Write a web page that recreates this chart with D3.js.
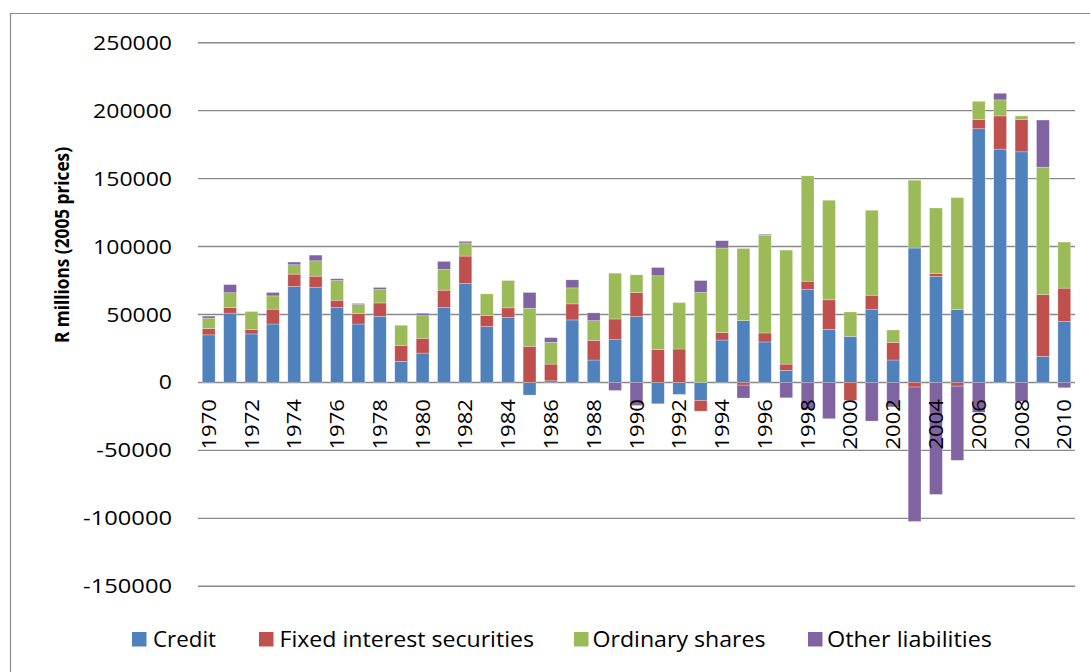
<!DOCTYPE html>
<html>
<head>
<meta charset="utf-8">
<script src="https://cdn.jsdelivr.net/npm/d3@7"></script>
<style>
html,body{margin:0;padding:0;background:#fff;}
svg{display:block;}
text{font-family:"Open Sans","DejaVu Sans",sans-serif;fill:#000;}
</style>
</head>
<body>
<svg id="chart" width="1090" height="672"></svg>
<script>
const years = d3.range(1970, 2011).map(String);
const seriesNames = ["Credit", "Fixed interest securities", "Ordinary shares", "Other liabilities"];
const seriesColors = ["#4F81BD", "#C0504D", "#9BBB59", "#8064A2"];
const yTicks = [-150000, -100000, -50000, 0, 50000, 100000, 150000, 200000, 250000];

const credit = [35000, 51000, 35700, 43000, 70600, 70100, 55100, 43000, 48700, 15500,
  21600, 55100, 72800, 41100, 48000, -9300, 1200, 46000, 16500, 31500,
  48500, -15700, -8800, -13200, 31200, 45500, 29800, 8900, 68600, 39100,
  33900, 53600, 16500, 98900, 78000, 53600, 186700, 171700, 169700, 19200, 44800];
const fixedInterest = [4700, 4000, 3400, 10900, 9100, 8100, 5400, 7700, 9800, 11800,
  10900, 12800, 20200, 8300, 6900, 26600, 12300, 11800, 14500, 15200,
  17700, 24100, 24600, -7900, 5500, -2000, 6600, 4600, 5900, 21700,
  -13200, 10600, 13000, -3400, 2200, -2700, 6700, 24400, 23700, 45500, 24600];
const ordinaryShares = [7600, 11000, 13100, 9800, 6900, 11300, 14500, 6600, 9900, 14800,
  16700, 15200, 9600, 15800, 20100, 28000, 16000, 11800, 14500, 33700,
  13000, 54400, 34200, 66200, 62200, 53100, 71800, 83900, 77500, 73300,
  18000, 62500, 9100, 49900, 48200, 82400, 13500, 11800, 2700, 93700, 33900];
const otherLiabilities = [1500, 6000, 0, 2500, 2000, 4200, 1300, 800, 1500, 0,
  1700, 6000, 1200, 0, 0, 11600, 3500, 5900, 5700, -5900,
  -17000, 6100, 0, 8800, 5400, -9500, 800, -11300, -20000, -26700,
  0, -28400, -18000, -98900, -82400, -54600, -22000, 4900, -14000, 34700, -3900];

const seriesValues = [credit, fixedInterest, ordinaryShares, otherLiabilities];
const table = years.map((y, i) => {
  const row = {year: y};
  seriesNames.forEach((n, k) => row[n] = seriesValues[k][i]);
  return row;
});

const svg = d3.select("#chart");
const plotLeft = 198, plotRight = 1075, plotTop = 42.7, plotBottom = 586.3;

// outer border
svg.append("path")
  .attr("d", `M10.5,700 L10.5,13.5 L1100,13.5`)
  .attr("fill", "none").attr("stroke", "#8a8a8a").attr("stroke-width", 1.2);

const x = d3.scaleBand().domain(years).range([plotLeft, plotRight]).paddingInner(0.4).paddingOuter(0.2);
const y = d3.scaleLinear().domain([-150000, 250000]).range([plotBottom, plotTop]);

// gridlines
svg.append("g").selectAll("line").data(yTicks).join("line")
  .attr("x1", plotLeft).attr("x2", plotRight)
  .attr("y1", d => y(d)).attr("y2", d => y(d))
  .attr("stroke", "#898989").attr("stroke-width", 1.4);

// y tick labels
svg.append("g").selectAll("text").data(yTicks).join("text")
  .attr("x", 172).attr("y", d => y(d))
  .attr("dy", "0.36em")
  .attr("text-anchor", "end")
  .attr("font-size", 19.5)
  .attr("textLength", d => { const s = String(d); const digits = s.replace("-", "").length; return digits * 13.15 + (s[0] === "-" ? 10 : 0); })
  .attr("lengthAdjust", "spacingAndGlyphs")
  .text(d => String(d));

// stacked bars
const stack = d3.stack().keys(seriesNames).offset(d3.stackOffsetDiverging);
const stacked = stack(table);
svg.append("g").selectAll("g").data(stacked).join("g")
  .attr("fill", (d, i) => seriesColors[i])
  .selectAll("rect").data(d => d).join("rect")
  .attr("x", d => x(d.data.year))
  .attr("width", x.bandwidth())
  .attr("y", d => y(Math.max(d[0], d[1])))
  .attr("height", d => Math.abs(y(d[0]) - y(d[1])))
  .attr("stroke", "#ffffff").attr("stroke-opacity", 0.45).attr("stroke-width", 0.6);

// x labels (every other year)
const labelYears = years.filter((d, i) => i % 2 === 0);
svg.append("g").selectAll("text").data(labelYears).join("text")
  .attr("transform", d => `translate(${x(d) + x.bandwidth() / 2},399) rotate(-90)`)
  .attr("text-anchor", "end")
  .attr("dy", "0.36em")
  .attr("font-size", 19.5)
  .attr("textLength", 50.5)
  .attr("lengthAdjust", "spacingAndGlyphs")
  .text(d => d);

// y axis title
svg.append("text")
  .attr("transform", "translate(62,245) rotate(-90)")
  .attr("text-anchor", "middle")
  .attr("dy", "0.36em")
  .attr("font-size", 19)
  .attr("font-weight", "bold")
  .attr("textLength", 196)
  .attr("lengthAdjust", "spacingAndGlyphs")
  .text("R millions (2005 prices)");

// legend
const legendItems = [
  {sx: 132, tx: 153, tw: 63},
  {sx: 259, tx: 279.5, tw: 254.5},
  {sx: 574, tx: 592.5, tw: 173},
  {sx: 808, tx: 827, tw: 165}
];
const lg = svg.append("g");
seriesNames.forEach((n, i) => {
  const it = legendItems[i];
  lg.append("rect").attr("x", it.sx).attr("y", 632).attr("width", 14.5).attr("height", 14.5)
    .attr("fill", seriesColors[i]);
  lg.append("text").attr("x", it.tx).attr("y", 639.5).attr("dy", "0.36em")
    .attr("font-size", 21.5)
    .attr("textLength", it.tw).attr("lengthAdjust", "spacingAndGlyphs")
    .text(n);
});
</script>
</body>
</html>
